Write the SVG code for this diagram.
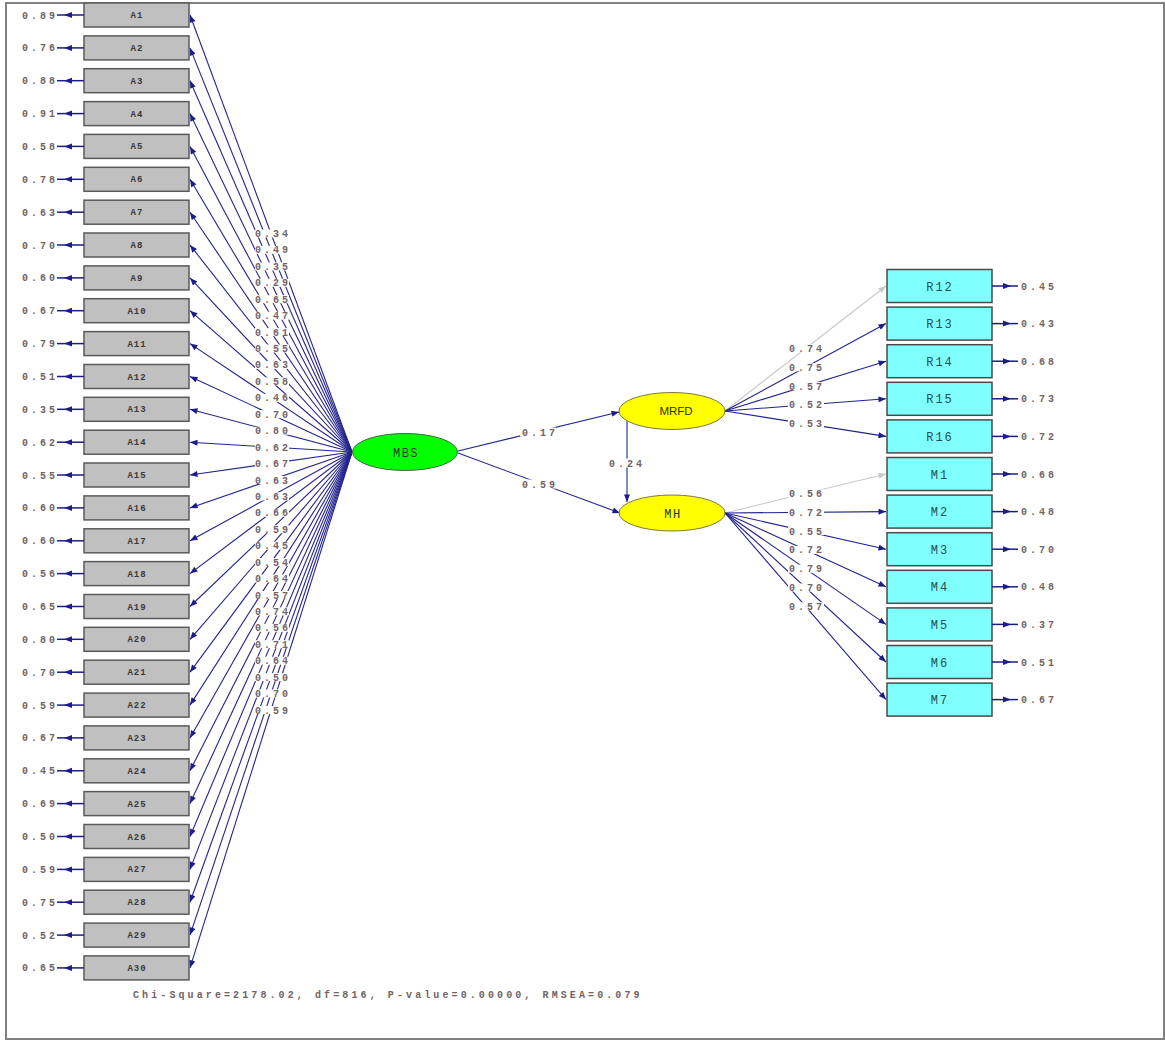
<svg xmlns="http://www.w3.org/2000/svg" xmlns:xlink="http://www.w3.org/1999/xlink" width="1165" height="1041" viewBox="0 0 1165 1041">
<style>
.box-a{fill:#c0c0c0;stroke:#5a5a5a;stroke-width:1.5}
.box-r{fill:#80ffff;stroke:#4a4a4a;stroke-width:1.5}
.lbl-a{font-family:"Liberation Mono",monospace;font-size:9px;font-weight:bold;fill:#383838;text-anchor:middle;letter-spacing:1px}
.lbl-r{font-family:"Liberation Mono",monospace;font-size:12px;fill:#1f4f4f;text-anchor:middle;letter-spacing:2px}
.lat{font-family:"Liberation Mono",monospace;font-size:12px;fill:#204020;text-anchor:middle;letter-spacing:1.5px}
.latsans{font-family:"Liberation Sans",Arial,sans-serif;font-size:11.5px;fill:#303000;text-anchor:middle}
.num{font-family:"Liberation Mono",monospace;font-size:10px;font-weight:bold;fill:#706464;letter-spacing:3px}
.numc{font-family:"Liberation Mono",monospace;font-size:10px;font-weight:bold;fill:#706464;letter-spacing:3px;text-anchor:middle}
.nume{font-family:"Liberation Mono",monospace;font-size:10px;font-weight:bold;fill:#706464;letter-spacing:3px;text-anchor:end}
.p{stroke:#24248e;stroke-width:1.1;fill:none;marker-end:url(#ah)}
.fx{stroke:#c8c8c8;stroke-width:1.1;fill:none;marker-end:url(#ahg)}
.err{stroke:#1c1c8a;stroke-width:1.5}
.eh{fill:#1c1c8a}
.bg{fill:#ffffff}
</style>
<defs>
<marker id="ah" viewBox="0 0 10 8" refX="10" refY="4" markerWidth="9" markerHeight="6" markerUnits="userSpaceOnUse" orient="auto"><path d="M0,0 L10,4 L0,8 z" fill="#1c1c8a"/></marker>
<marker id="ahg" viewBox="0 0 10 8" refX="10" refY="4" markerWidth="9" markerHeight="6" markerUnits="userSpaceOnUse" orient="auto"><path d="M0,0 L10,4 L0,8 z" fill="#c8c8c8"/></marker>
<path id="eL" class="eh" d="M0,0 L8,-3 L8,3 z"/>
<path id="eR" class="eh" d="M0,0 L-8,-3 L-8,3 z"/>
</defs>
<rect x="0" y="0" width="1165" height="1041" fill="#ffffff"/>
<rect x="6" y="3" width="1158" height="1036" fill="none" stroke="#808080" stroke-width="2"/>

<g id="connectors">
<line class="p" x1="352" y1="452" x2="190" y2="15"/>
<line class="p" x1="352" y1="452" x2="190" y2="47.9"/>
<line class="p" x1="352" y1="452" x2="190" y2="80.7"/>
<line class="p" x1="352" y1="452" x2="190" y2="113.6"/>
<line class="p" x1="352" y1="452" x2="190" y2="146.4"/>
<line class="p" x1="352" y1="452" x2="190" y2="179.3"/>
<line class="p" x1="352" y1="452" x2="190" y2="212.2"/>
<line class="p" x1="352" y1="452" x2="190" y2="245"/>
<line class="p" x1="352" y1="452" x2="190" y2="277.9"/>
<line class="p" x1="352" y1="452" x2="190" y2="310.7"/>
<line class="p" x1="352" y1="452" x2="190" y2="343.6"/>
<line class="p" x1="352" y1="452" x2="190" y2="376.5"/>
<line class="p" x1="352" y1="452" x2="190" y2="409.3"/>
<line class="p" x1="352" y1="452" x2="190" y2="442.2"/>
<line class="p" x1="352" y1="452" x2="190" y2="475"/>
<line class="p" x1="352" y1="452" x2="190" y2="507.9"/>
<line class="p" x1="352" y1="452" x2="190" y2="540.8"/>
<line class="p" x1="352" y1="452" x2="190" y2="573.6"/>
<line class="p" x1="352" y1="452" x2="190" y2="606.5"/>
<line class="p" x1="352" y1="452" x2="190" y2="639.3"/>
<line class="p" x1="352" y1="452" x2="190" y2="672.2"/>
<line class="p" x1="352" y1="452" x2="190" y2="705.1"/>
<line class="p" x1="352" y1="452" x2="190" y2="737.9"/>
<line class="p" x1="352" y1="452" x2="190" y2="770.8"/>
<line class="p" x1="352" y1="452" x2="190" y2="803.6"/>
<line class="p" x1="352" y1="452" x2="190" y2="836.5"/>
<line class="p" x1="352" y1="452" x2="190" y2="869.4"/>
<line class="p" x1="352" y1="452" x2="190" y2="902.2"/>
<line class="p" x1="352" y1="452" x2="190" y2="935.1"/>
<line class="p" x1="352" y1="452" x2="190" y2="967.9"/>

<line class="p" x1="458" y1="451" x2="619" y2="412"/>
<line class="p" x1="458" y1="453" x2="620" y2="513"/>
<line class="p" x1="627" y1="421" x2="627" y2="502"/>

<line class="fx" x1="725" y1="411" x2="886" y2="286"/>
<line class="p" x1="725" y1="411" x2="886" y2="323.6"/>
<line class="p" x1="725" y1="411" x2="886" y2="361.2"/>
<line class="p" x1="725" y1="411" x2="886" y2="398.8"/>
<line class="p" x1="725" y1="411" x2="886" y2="436.4"/>
<line class="fx" x1="725" y1="513" x2="886" y2="474"/>
<line class="p" x1="725" y1="513" x2="886" y2="511.6"/>
<line class="p" x1="725" y1="513" x2="886" y2="549.2"/>
<line class="p" x1="725" y1="513" x2="886" y2="586.8"/>
<line class="p" x1="725" y1="513" x2="886" y2="624.4"/>
<line class="p" x1="725" y1="513" x2="886" y2="662"/>
<line class="p" x1="725" y1="513" x2="886" y2="699.6"/>
</g>

<g id="connector-labels">
<g transform="translate(0,233.5)"><rect class="bg" x="255" y="-4" width="34" height="8"/><text class="numc" x="273" y="3.5">0.34</text></g>
<g transform="translate(0,249.9)"><rect class="bg" x="255" y="-4" width="34" height="8"/><text class="numc" x="273" y="3.5">0.49</text></g>
<g transform="translate(0,266.4)"><rect class="bg" x="255" y="-4" width="34" height="8"/><text class="numc" x="273" y="3.5">0.35</text></g>
<g transform="translate(0,282.8)"><rect class="bg" x="255" y="-4" width="34" height="8"/><text class="numc" x="273" y="3.5">0.29</text></g>
<g transform="translate(0,299.2)"><rect class="bg" x="255" y="-4" width="34" height="8"/><text class="numc" x="273" y="3.5">0.65</text></g>
<g transform="translate(0,315.7)"><rect class="bg" x="255" y="-4" width="34" height="8"/><text class="numc" x="273" y="3.5">0.47</text></g>
<g transform="translate(0,332.1)"><rect class="bg" x="255" y="-4" width="34" height="8"/><text class="numc" x="273" y="3.5">0.61</text></g>
<g transform="translate(0,348.5)"><rect class="bg" x="255" y="-4" width="34" height="8"/><text class="numc" x="273" y="3.5">0.55</text></g>
<g transform="translate(0,364.9)"><rect class="bg" x="255" y="-4" width="34" height="8"/><text class="numc" x="273" y="3.5">0.63</text></g>
<g transform="translate(0,381.4)"><rect class="bg" x="255" y="-4" width="34" height="8"/><text class="numc" x="273" y="3.5">0.58</text></g>
<g transform="translate(0,397.8)"><rect class="bg" x="255" y="-4" width="34" height="8"/><text class="numc" x="273" y="3.5">0.46</text></g>
<g transform="translate(0,414.2)"><rect class="bg" x="255" y="-4" width="34" height="8"/><text class="numc" x="273" y="3.5">0.70</text></g>
<g transform="translate(0,430.7)"><rect class="bg" x="255" y="-4" width="34" height="8"/><text class="numc" x="273" y="3.5">0.80</text></g>
<g transform="translate(0,447.1)"><rect class="bg" x="255" y="-4" width="34" height="8"/><text class="numc" x="273" y="3.5">0.62</text></g>
<g transform="translate(0,463.5)"><rect class="bg" x="255" y="-4" width="34" height="8"/><text class="numc" x="273" y="3.5">0.67</text></g>
<g transform="translate(0,480)"><rect class="bg" x="255" y="-4" width="34" height="8"/><text class="numc" x="273" y="3.5">0.63</text></g>
<g transform="translate(0,496.4)"><rect class="bg" x="255" y="-4" width="34" height="8"/><text class="numc" x="273" y="3.5">0.63</text></g>
<g transform="translate(0,512.8)"><rect class="bg" x="255" y="-4" width="34" height="8"/><text class="numc" x="273" y="3.5">0.66</text></g>
<g transform="translate(0,529.2)"><rect class="bg" x="255" y="-4" width="34" height="8"/><text class="numc" x="273" y="3.5">0.59</text></g>
<g transform="translate(0,545.7)"><rect class="bg" x="255" y="-4" width="34" height="8"/><text class="numc" x="273" y="3.5">0.45</text></g>
<g transform="translate(0,562.1)"><rect class="bg" x="255" y="-4" width="34" height="8"/><text class="numc" x="273" y="3.5">0.54</text></g>
<g transform="translate(0,578.5)"><rect class="bg" x="255" y="-4" width="34" height="8"/><text class="numc" x="273" y="3.5">0.64</text></g>
<g transform="translate(0,595)"><rect class="bg" x="255" y="-4" width="34" height="8"/><text class="numc" x="273" y="3.5">0.57</text></g>
<g transform="translate(0,611.4)"><rect class="bg" x="255" y="-4" width="34" height="8"/><text class="numc" x="273" y="3.5">0.74</text></g>
<g transform="translate(0,627.8)"><rect class="bg" x="255" y="-4" width="34" height="8"/><text class="numc" x="273" y="3.5">0.56</text></g>
<g transform="translate(0,644.2)"><rect class="bg" x="255" y="-4" width="34" height="8"/><text class="numc" x="273" y="3.5">0.71</text></g>
<g transform="translate(0,660.7)"><rect class="bg" x="255" y="-4" width="34" height="8"/><text class="numc" x="273" y="3.5">0.64</text></g>
<g transform="translate(0,677.1)"><rect class="bg" x="255" y="-4" width="34" height="8"/><text class="numc" x="273" y="3.5">0.50</text></g>
<g transform="translate(0,693.5)"><rect class="bg" x="255" y="-4" width="34" height="8"/><text class="numc" x="273" y="3.5">0.70</text></g>
<g transform="translate(0,710)"><rect class="bg" x="255" y="-4" width="34" height="8"/><text class="numc" x="273" y="3.5">0.59</text></g>

<rect class="bg" x="520" y="427.5" width="36" height="9"/><text class="numc" x="540" y="436">0.17</text>
<rect class="bg" x="520" y="479.5" width="36" height="9"/><text class="numc" x="540" y="488">0.59</text>
<rect class="bg" x="608" y="458.5" width="36" height="9"/><text class="numc" x="627" y="467">0.24</text>

<rect class="bg" x="788" y="344.5" width="36" height="8"/><text class="numc" x="807" y="352">0.74</text>
<rect class="bg" x="788" y="363.3" width="36" height="8"/><text class="numc" x="807" y="370.8">0.75</text>
<rect class="bg" x="788" y="382.1" width="36" height="8"/><text class="numc" x="807" y="389.6">0.57</text>
<rect class="bg" x="788" y="400.9" width="36" height="8"/><text class="numc" x="807" y="408.4">0.52</text>
<rect class="bg" x="788" y="419.7" width="36" height="8"/><text class="numc" x="807" y="427.2">0.53</text>
<rect class="bg" x="788" y="489.5" width="36" height="8"/><text class="numc" x="807" y="497">0.56</text>
<rect class="bg" x="788" y="508.3" width="36" height="8"/><text class="numc" x="807" y="515.8">0.72</text>
<rect class="bg" x="788" y="527.1" width="36" height="8"/><text class="numc" x="807" y="534.6">0.55</text>
<rect class="bg" x="788" y="545.9" width="36" height="8"/><text class="numc" x="807" y="553.4">0.72</text>
<rect class="bg" x="788" y="564.7" width="36" height="8"/><text class="numc" x="807" y="572.2">0.79</text>
<rect class="bg" x="788" y="583.5" width="36" height="8"/><text class="numc" x="807" y="591">0.70</text>
<rect class="bg" x="788" y="602.3" width="36" height="8"/><text class="numc" x="807" y="609.8">0.57</text>
</g>

<g id="A1" transform="translate(0,15)"><rect class="box-a" x="84" y="-12" width="105" height="24"/><text class="lbl-a" x="137" y="3">A1</text><line class="err" x1="57" y1="0" x2="84" y2="0"/><use xlink:href="#eL" x="64" y="0"/><text class="nume" x="58" y="3.5">0.89</text></g>
<g id="A2" transform="translate(0,47.9)"><rect class="box-a" x="84" y="-12" width="105" height="24"/><text class="lbl-a" x="137" y="3">A2</text><line class="err" x1="57" y1="0" x2="84" y2="0"/><use xlink:href="#eL" x="64" y="0"/><text class="nume" x="58" y="3.5">0.76</text></g>
<g id="A3" transform="translate(0,80.7)"><rect class="box-a" x="84" y="-12" width="105" height="24"/><text class="lbl-a" x="137" y="3">A3</text><line class="err" x1="57" y1="0" x2="84" y2="0"/><use xlink:href="#eL" x="64" y="0"/><text class="nume" x="58" y="3.5">0.88</text></g>
<g id="A4" transform="translate(0,113.6)"><rect class="box-a" x="84" y="-12" width="105" height="24"/><text class="lbl-a" x="137" y="3">A4</text><line class="err" x1="57" y1="0" x2="84" y2="0"/><use xlink:href="#eL" x="64" y="0"/><text class="nume" x="58" y="3.5">0.91</text></g>
<g id="A5" transform="translate(0,146.4)"><rect class="box-a" x="84" y="-12" width="105" height="24"/><text class="lbl-a" x="137" y="3">A5</text><line class="err" x1="57" y1="0" x2="84" y2="0"/><use xlink:href="#eL" x="64" y="0"/><text class="nume" x="58" y="3.5">0.58</text></g>
<g id="A6" transform="translate(0,179.3)"><rect class="box-a" x="84" y="-12" width="105" height="24"/><text class="lbl-a" x="137" y="3">A6</text><line class="err" x1="57" y1="0" x2="84" y2="0"/><use xlink:href="#eL" x="64" y="0"/><text class="nume" x="58" y="3.5">0.78</text></g>
<g id="A7" transform="translate(0,212.2)"><rect class="box-a" x="84" y="-12" width="105" height="24"/><text class="lbl-a" x="137" y="3">A7</text><line class="err" x1="57" y1="0" x2="84" y2="0"/><use xlink:href="#eL" x="64" y="0"/><text class="nume" x="58" y="3.5">0.63</text></g>
<g id="A8" transform="translate(0,245)"><rect class="box-a" x="84" y="-12" width="105" height="24"/><text class="lbl-a" x="137" y="3">A8</text><line class="err" x1="57" y1="0" x2="84" y2="0"/><use xlink:href="#eL" x="64" y="0"/><text class="nume" x="58" y="3.5">0.70</text></g>
<g id="A9" transform="translate(0,277.9)"><rect class="box-a" x="84" y="-12" width="105" height="24"/><text class="lbl-a" x="137" y="3">A9</text><line class="err" x1="57" y1="0" x2="84" y2="0"/><use xlink:href="#eL" x="64" y="0"/><text class="nume" x="58" y="3.5">0.60</text></g>
<g id="A10" transform="translate(0,310.7)"><rect class="box-a" x="84" y="-12" width="105" height="24"/><text class="lbl-a" x="137" y="3">A10</text><line class="err" x1="57" y1="0" x2="84" y2="0"/><use xlink:href="#eL" x="64" y="0"/><text class="nume" x="58" y="3.5">0.67</text></g>
<g id="A11" transform="translate(0,343.6)"><rect class="box-a" x="84" y="-12" width="105" height="24"/><text class="lbl-a" x="137" y="3">A11</text><line class="err" x1="57" y1="0" x2="84" y2="0"/><use xlink:href="#eL" x="64" y="0"/><text class="nume" x="58" y="3.5">0.79</text></g>
<g id="A12" transform="translate(0,376.5)"><rect class="box-a" x="84" y="-12" width="105" height="24"/><text class="lbl-a" x="137" y="3">A12</text><line class="err" x1="57" y1="0" x2="84" y2="0"/><use xlink:href="#eL" x="64" y="0"/><text class="nume" x="58" y="3.5">0.51</text></g>
<g id="A13" transform="translate(0,409.3)"><rect class="box-a" x="84" y="-12" width="105" height="24"/><text class="lbl-a" x="137" y="3">A13</text><line class="err" x1="57" y1="0" x2="84" y2="0"/><use xlink:href="#eL" x="64" y="0"/><text class="nume" x="58" y="3.5">0.35</text></g>
<g id="A14" transform="translate(0,442.2)"><rect class="box-a" x="84" y="-12" width="105" height="24"/><text class="lbl-a" x="137" y="3">A14</text><line class="err" x1="57" y1="0" x2="84" y2="0"/><use xlink:href="#eL" x="64" y="0"/><text class="nume" x="58" y="3.5">0.62</text></g>
<g id="A15" transform="translate(0,475)"><rect class="box-a" x="84" y="-12" width="105" height="24"/><text class="lbl-a" x="137" y="3">A15</text><line class="err" x1="57" y1="0" x2="84" y2="0"/><use xlink:href="#eL" x="64" y="0"/><text class="nume" x="58" y="3.5">0.55</text></g>
<g id="A16" transform="translate(0,507.9)"><rect class="box-a" x="84" y="-12" width="105" height="24"/><text class="lbl-a" x="137" y="3">A16</text><line class="err" x1="57" y1="0" x2="84" y2="0"/><use xlink:href="#eL" x="64" y="0"/><text class="nume" x="58" y="3.5">0.60</text></g>
<g id="A17" transform="translate(0,540.8)"><rect class="box-a" x="84" y="-12" width="105" height="24"/><text class="lbl-a" x="137" y="3">A17</text><line class="err" x1="57" y1="0" x2="84" y2="0"/><use xlink:href="#eL" x="64" y="0"/><text class="nume" x="58" y="3.5">0.60</text></g>
<g id="A18" transform="translate(0,573.6)"><rect class="box-a" x="84" y="-12" width="105" height="24"/><text class="lbl-a" x="137" y="3">A18</text><line class="err" x1="57" y1="0" x2="84" y2="0"/><use xlink:href="#eL" x="64" y="0"/><text class="nume" x="58" y="3.5">0.56</text></g>
<g id="A19" transform="translate(0,606.5)"><rect class="box-a" x="84" y="-12" width="105" height="24"/><text class="lbl-a" x="137" y="3">A19</text><line class="err" x1="57" y1="0" x2="84" y2="0"/><use xlink:href="#eL" x="64" y="0"/><text class="nume" x="58" y="3.5">0.65</text></g>
<g id="A20" transform="translate(0,639.3)"><rect class="box-a" x="84" y="-12" width="105" height="24"/><text class="lbl-a" x="137" y="3">A20</text><line class="err" x1="57" y1="0" x2="84" y2="0"/><use xlink:href="#eL" x="64" y="0"/><text class="nume" x="58" y="3.5">0.80</text></g>
<g id="A21" transform="translate(0,672.2)"><rect class="box-a" x="84" y="-12" width="105" height="24"/><text class="lbl-a" x="137" y="3">A21</text><line class="err" x1="57" y1="0" x2="84" y2="0"/><use xlink:href="#eL" x="64" y="0"/><text class="nume" x="58" y="3.5">0.70</text></g>
<g id="A22" transform="translate(0,705.1)"><rect class="box-a" x="84" y="-12" width="105" height="24"/><text class="lbl-a" x="137" y="3">A22</text><line class="err" x1="57" y1="0" x2="84" y2="0"/><use xlink:href="#eL" x="64" y="0"/><text class="nume" x="58" y="3.5">0.59</text></g>
<g id="A23" transform="translate(0,737.9)"><rect class="box-a" x="84" y="-12" width="105" height="24"/><text class="lbl-a" x="137" y="3">A23</text><line class="err" x1="57" y1="0" x2="84" y2="0"/><use xlink:href="#eL" x="64" y="0"/><text class="nume" x="58" y="3.5">0.67</text></g>
<g id="A24" transform="translate(0,770.8)"><rect class="box-a" x="84" y="-12" width="105" height="24"/><text class="lbl-a" x="137" y="3">A24</text><line class="err" x1="57" y1="0" x2="84" y2="0"/><use xlink:href="#eL" x="64" y="0"/><text class="nume" x="58" y="3.5">0.45</text></g>
<g id="A25" transform="translate(0,803.6)"><rect class="box-a" x="84" y="-12" width="105" height="24"/><text class="lbl-a" x="137" y="3">A25</text><line class="err" x1="57" y1="0" x2="84" y2="0"/><use xlink:href="#eL" x="64" y="0"/><text class="nume" x="58" y="3.5">0.69</text></g>
<g id="A26" transform="translate(0,836.5)"><rect class="box-a" x="84" y="-12" width="105" height="24"/><text class="lbl-a" x="137" y="3">A26</text><line class="err" x1="57" y1="0" x2="84" y2="0"/><use xlink:href="#eL" x="64" y="0"/><text class="nume" x="58" y="3.5">0.50</text></g>
<g id="A27" transform="translate(0,869.4)"><rect class="box-a" x="84" y="-12" width="105" height="24"/><text class="lbl-a" x="137" y="3">A27</text><line class="err" x1="57" y1="0" x2="84" y2="0"/><use xlink:href="#eL" x="64" y="0"/><text class="nume" x="58" y="3.5">0.59</text></g>
<g id="A28" transform="translate(0,902.2)"><rect class="box-a" x="84" y="-12" width="105" height="24"/><text class="lbl-a" x="137" y="3">A28</text><line class="err" x1="57" y1="0" x2="84" y2="0"/><use xlink:href="#eL" x="64" y="0"/><text class="nume" x="58" y="3.5">0.75</text></g>
<g id="A29" transform="translate(0,935.1)"><rect class="box-a" x="84" y="-12" width="105" height="24"/><text class="lbl-a" x="137" y="3">A29</text><line class="err" x1="57" y1="0" x2="84" y2="0"/><use xlink:href="#eL" x="64" y="0"/><text class="nume" x="58" y="3.5">0.52</text></g>
<g id="A30" transform="translate(0,967.9)"><rect class="box-a" x="84" y="-12" width="105" height="24"/><text class="lbl-a" x="137" y="3">A30</text><line class="err" x1="57" y1="0" x2="84" y2="0"/><use xlink:href="#eL" x="64" y="0"/><text class="nume" x="58" y="3.5">0.65</text></g>

<g id="MBS"><ellipse cx="405" cy="452" rx="52.5" ry="18.5" fill="#00ff00" stroke="#3a6a3a" stroke-width="1"/><text class="lat" x="406" y="456.5">MBS</text></g>
<g id="MRFD"><ellipse cx="672" cy="411" rx="53" ry="18.5" fill="#ffff00" stroke="#7a7a3a" stroke-width="1"/><text class="latsans" x="676" y="415">MRFD</text></g>
<g id="MH"><ellipse cx="672" cy="513" rx="53" ry="18" fill="#ffff00" stroke="#7a7a3a" stroke-width="1"/><text class="lat" x="673" y="517.5">MH</text></g>

<g id="R12" transform="translate(0,286)"><rect class="box-r" x="887" y="-16.5" width="105" height="33"/><text class="lbl-r" x="940" y="4.5">R12</text><line class="err" x1="992" y1="0" x2="1018" y2="0"/><use xlink:href="#eR" x="1011" y="0"/><text class="num" x="1021" y="3.5">0.45</text></g>
<g id="R13" transform="translate(0,323.6)"><rect class="box-r" x="887" y="-16.5" width="105" height="33"/><text class="lbl-r" x="940" y="4.5">R13</text><line class="err" x1="992" y1="0" x2="1018" y2="0"/><use xlink:href="#eR" x="1011" y="0"/><text class="num" x="1021" y="3.5">0.43</text></g>
<g id="R14" transform="translate(0,361.2)"><rect class="box-r" x="887" y="-16.5" width="105" height="33"/><text class="lbl-r" x="940" y="4.5">R14</text><line class="err" x1="992" y1="0" x2="1018" y2="0"/><use xlink:href="#eR" x="1011" y="0"/><text class="num" x="1021" y="3.5">0.68</text></g>
<g id="R15" transform="translate(0,398.8)"><rect class="box-r" x="887" y="-16.5" width="105" height="33"/><text class="lbl-r" x="940" y="4.5">R15</text><line class="err" x1="992" y1="0" x2="1018" y2="0"/><use xlink:href="#eR" x="1011" y="0"/><text class="num" x="1021" y="3.5">0.73</text></g>
<g id="R16" transform="translate(0,436.4)"><rect class="box-r" x="887" y="-16.5" width="105" height="33"/><text class="lbl-r" x="940" y="4.5">R16</text><line class="err" x1="992" y1="0" x2="1018" y2="0"/><use xlink:href="#eR" x="1011" y="0"/><text class="num" x="1021" y="3.5">0.72</text></g>
<g id="M1" transform="translate(0,474)"><rect class="box-r" x="887" y="-16.5" width="105" height="33"/><text class="lbl-r" x="940" y="4.5">M1</text><line class="err" x1="992" y1="0" x2="1018" y2="0"/><use xlink:href="#eR" x="1011" y="0"/><text class="num" x="1021" y="3.5">0.68</text></g>
<g id="M2" transform="translate(0,511.6)"><rect class="box-r" x="887" y="-16.5" width="105" height="33"/><text class="lbl-r" x="940" y="4.5">M2</text><line class="err" x1="992" y1="0" x2="1018" y2="0"/><use xlink:href="#eR" x="1011" y="0"/><text class="num" x="1021" y="3.5">0.48</text></g>
<g id="M3" transform="translate(0,549.2)"><rect class="box-r" x="887" y="-16.5" width="105" height="33"/><text class="lbl-r" x="940" y="4.5">M3</text><line class="err" x1="992" y1="0" x2="1018" y2="0"/><use xlink:href="#eR" x="1011" y="0"/><text class="num" x="1021" y="3.5">0.70</text></g>
<g id="M4" transform="translate(0,586.8)"><rect class="box-r" x="887" y="-16.5" width="105" height="33"/><text class="lbl-r" x="940" y="4.5">M4</text><line class="err" x1="992" y1="0" x2="1018" y2="0"/><use xlink:href="#eR" x="1011" y="0"/><text class="num" x="1021" y="3.5">0.48</text></g>
<g id="M5" transform="translate(0,624.4)"><rect class="box-r" x="887" y="-16.5" width="105" height="33"/><text class="lbl-r" x="940" y="4.5">M5</text><line class="err" x1="992" y1="0" x2="1018" y2="0"/><use xlink:href="#eR" x="1011" y="0"/><text class="num" x="1021" y="3.5">0.37</text></g>
<g id="M6" transform="translate(0,662)"><rect class="box-r" x="887" y="-16.5" width="105" height="33"/><text class="lbl-r" x="940" y="4.5">M6</text><line class="err" x1="992" y1="0" x2="1018" y2="0"/><use xlink:href="#eR" x="1011" y="0"/><text class="num" x="1021" y="3.5">0.51</text></g>
<g id="M7" transform="translate(0,699.6)"><rect class="box-r" x="887" y="-16.5" width="105" height="33"/><text class="lbl-r" x="940" y="4.5">M7</text><line class="err" x1="992" y1="0" x2="1018" y2="0"/><use xlink:href="#eR" x="1011" y="0"/><text class="num" x="1021" y="3.5">0.67</text></g>

<text class="num" x="133" y="998" style="letter-spacing:3.1px">Chi-Square=2178.02, df=816, P-value=0.00000, RMSEA=0.079</text>
</svg>
